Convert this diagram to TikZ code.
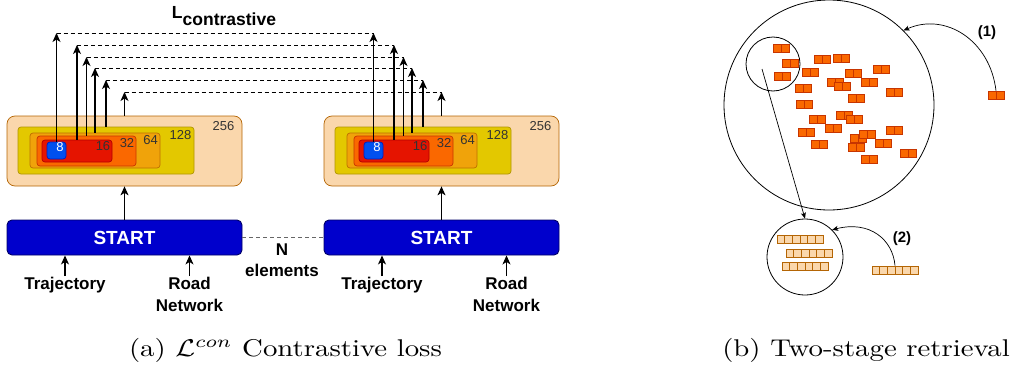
\documentclass[tikz,border=0pt]{standalone}
\usepackage{fix-cm}
\usepackage{fontspec}
\newfontfamily\helv{Liberation Sans}
\usetikzlibrary{arrows.meta,calc}
\definecolor{f256}{HTML}{FAD7AC}\definecolor{l256}{HTML}{B46504}
\definecolor{f128}{HTML}{E3C800}\definecolor{l128}{HTML}{B09500}
\definecolor{f64}{HTML}{F0A30A}\definecolor{l64}{HTML}{BD7000}
\definecolor{f32}{HTML}{FA6800}\definecolor{l32}{HTML}{C73500}
\definecolor{f16}{HTML}{E51400}\definecolor{l16}{HTML}{B20000}
\definecolor{f8}{HTML}{0050EF}\definecolor{l8}{HTML}{001DBC}
\definecolor{encfill}{HTML}{0000CC}\definecolor{encline}{HTML}{000066}
\tikzset{
  lay/.style 2 args={draw=#1,fill=#2,rounded corners=3pt,inner sep=0pt,line width=0.7pt},
  pair/.style={draw=l32,fill=f32,minimum width=16pt,minimum height=8pt,inner sep=0pt,line width=0.6pt,
    path picture={\draw[l32,line width=0.6pt] (path picture bounding box.north) -- (path picture bounding box.south);}},
  row/.style={draw=l256,fill=f256,minimum width=46pt,minimum height=8pt,inner sep=0pt,line width=0.6pt,
    path picture={\foreach \c in {1,...,5}
      \draw[l256,line width=0.6pt] ($(path picture bounding box.north west)!\c/6!(path picture bounding box.north east)$)
        -- ($(path picture bounding box.south west)!\c/6!(path picture bounding box.south east)$);}},
  capt/.style={font=\fontsize{10}{12}\selectfont,xscale=2.88,yscale=2.42,inner sep=0pt}
}
\begin{document}
\begin{tikzpicture}[x=1pt,y=-1pt,
  arr/.style={-{Stealth[length=9pt,width=8pt,inset=2.5pt]},line width=1.1pt},
  tarr/.style={-{Stealth[length=6pt,width=5pt,inset=1.5pt]},line width=0.7pt},
  lbl/.style={font=\helv\bfseries\fontsize{17}{21.5}\selectfont,align=center,inner sep=1pt},
  num/.style={font=\helv\fontsize{13}{13}\selectfont,text=black!80,inner sep=0pt},
  enc/.style={draw=encline,fill=encfill,rounded corners=5pt,minimum width=235pt,minimum height=35pt,
    line width=0.9pt,text=white,font=\helv\bfseries\fontsize{19}{19}\selectfont},
  gap/.style={dash pattern=on 4pt off 3pt,line width=0.9pt}]
\useasboundingbox (0,0) rectangle (1012,372);
% (a) two encoders with nested embeddings
\foreach \dx/\s in {0/a,317/b}{
  \node[lay={l256}{f256},rounded corners=8pt,minimum width=235pt,minimum height=70pt] (n256\s) at (124.5+\dx,151) {};
  \node[lay={l128}{f128},minimum width=176pt,minimum height=47pt] (n128\s) at (106+\dx,150.5) {};
  \node[lay={l64}{f64},minimum width=130pt,minimum height=35pt] (n64\s) at (95+\dx,150.5) {};
  \node[lay={l32}{f32},minimum width=99pt,minimum height=30pt] (n32\s) at (86.5+\dx,151) {};
  \node[lay={l16}{f16},minimum width=70pt,minimum height=22pt] (n16\s) at (77+\dx,151) {};
  \node[lay={l8}{f8},minimum width=19pt,minimum height=17pt] (n8\s) at (56.5+\dx,150.5) {};
  \node[num] (m256\s) at (223.5+\dx,126) {256};
  \node[num] (m128\s) at (180.5+\dx,135) {128};
  \node[num] (m64\s) at (150.5+\dx,140.5) {64};
  \node[num] (m32\s) at (127+\dx,143.5) {32};
  \node[num] (m16\s) at (103+\dx,146.5) {16};
  \node[num,text=white] (m8\s) at (60+\dx,147.5) {8};
  \foreach \lv/\h in {8/33,16/45,32/57,64/68,128/80,256/92}{
    \coordinate (t\lv\s) at (n\lv\s.north |- 0,\h);
    \draw[arr] (n\lv\s.north) -- (t\lv\s);
  }
  \node[enc] (st\s) at (124.5+\dx,237.5) {START};
  \draw[arr] (st\s) -- (n256\s);
  \node[lbl,anchor=north] (tr\s) at (65+\dx,276) {Trajectory};
  \node[lbl,anchor=north] (rn\s) at (189.5+\dx,276) {Road\\Network};
  \draw[arr] (tr\s) -- (tr\s |- st\s.south);
  \draw[arr] (rn\s) -- (rn\s |- st\s.south);
}
\foreach \lv in {8,16,32,64,128,256}
  \draw[gap] (t\lv a) -- (t\lv b);
\node[font=\helv\bfseries\fontsize{17.5}{17.5}\selectfont,anchor=base] (lcon) at (224,18) {L\raisebox{-7pt}{contrastive}};
\draw[gap,black!60] (sta) -- (stb);
\node[lbl] (nel) at (282,260) {N\\elements};
\node[capt] (capa) at (285.5,350.5) {(a) $\mathcal{L}^{con}$ Contrastive loss};
% (b) two-stage retrieval
\node[circle,draw,line width=0.8pt,minimum size=210pt,inner sep=0pt] (pool) at (829,105) {};
\node[circle,draw,line width=0.8pt,minimum size=54pt,inner sep=0pt] (near) at (773,64) {};
\node[circle,draw,line width=0.8pt,minimum size=76pt,inner sep=0pt] (cand) at (805,257) {};
\foreach \x/\y [count=\i] in {781/48,790/63,782/76,822/59,841/58,810/72,853/73,881/69,835/82,842/86,
    869/82,803/88,894/92,856/98,804/104,844/115,817/119,854/119,806/132,833/128,894/130,858/138,
    867/134,819/144,856/147,883/143,869/159,908/153}
  \node[pair] (p\i) at (\x,\y) {};
\node[pair] (qa) at (996,95) {};
\node[row] (r1) at (800,239) {};
\node[row] (r2) at (809,253) {};
\node[row] (r3) at (805,266) {};
\node[row] (qb) at (895,270) {};
\coordinate (sel) at (762,69);
\draw[tarr] (sel) -- (cand.north);
\draw[tarr] (qa.north) .. controls (990,40) and (945,12) .. (pool.45);
\draw[tarr] (qb.north) .. controls (893,240) and (870,220) .. (cand.45);
\node[font=\helv\bfseries\fontsize{15}{15}\selectfont] (s1) at (987,33) {(1)};
\node[font=\helv\bfseries\fontsize{15}{15}\selectfont] (s2) at (902,239) {(2)};
\node[capt] (capb) at (866,350.5) {(b) Two-stage retrieval};
\end{tikzpicture}
\end{document}
